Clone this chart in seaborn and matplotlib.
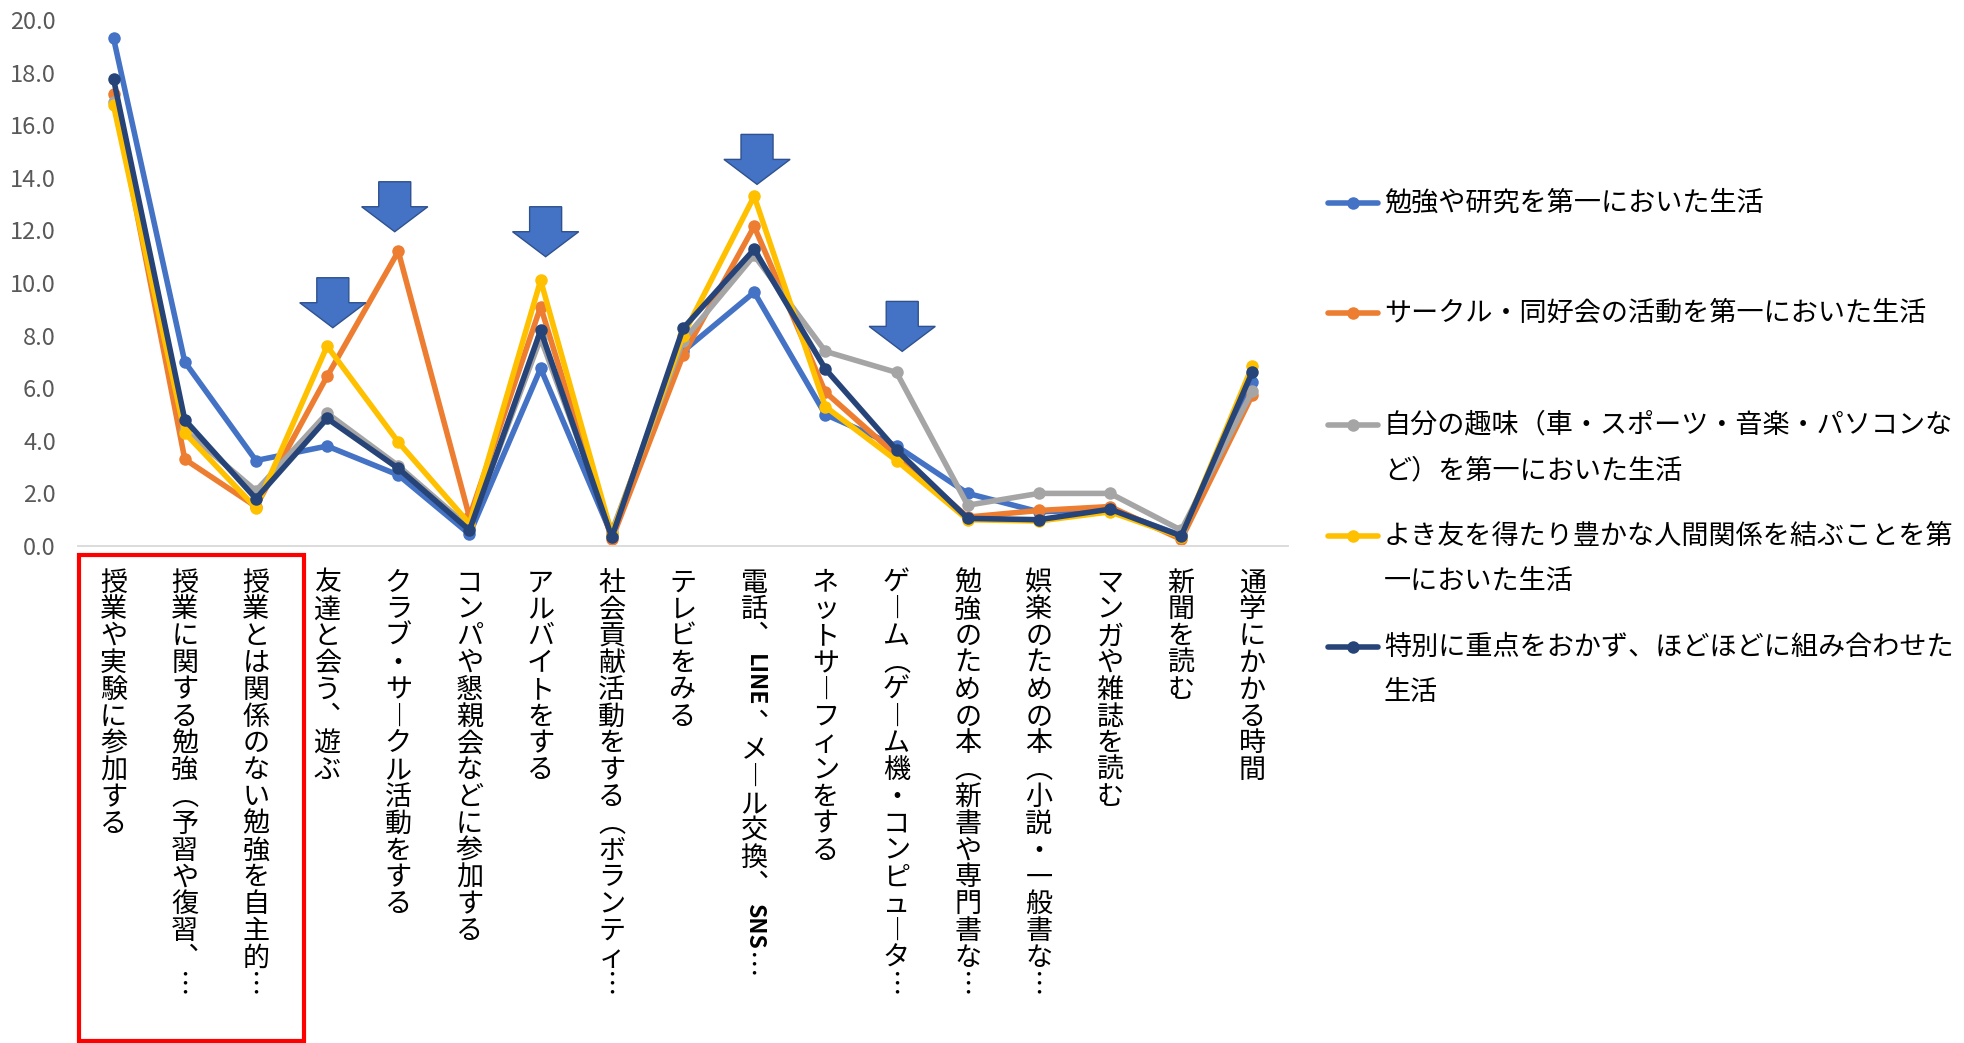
import numpy as np
import pandas as pd
import seaborn as sns
import matplotlib.pyplot as plt
from matplotlib import font_manager, ft2font
from matplotlib.lines import Line2D
from matplotlib.patches import FancyArrow, Rectangle
from matplotlib.transforms import blended_transform_factory

# categories on the x axis (already truncated as in the original chart)
categories = [
    "授業や実験に参加する",
    "授業に関する勉強（予習や復習、…",
    "授業とは関係のない勉強を自主的…",
    "友達と会う、遊ぶ",
    "クラブ・サークル活動をする",
    "コンパや懇親会などに参加する",
    "アルバイトをする",
    "社会貢献活動をする（ボランティ…",
    "テレビをみる",
    "電話、LINE、メール交換、SNS…",
    "ネットサーフィンをする",
    "ゲーム（ゲーム機・コンピュータ…",
    "勉強のための本（新書や専門書な…",
    "娯楽のための本（小説・一般書な…",
    "マンガや雑誌を読む",
    "新聞を読む",
    "通学にかかる時間",
]

series_names = [
    "勉強や研究を第一においた生活",
    "サークル・同好会の活動を第一においた生活",
    "自分の趣味（車・スポーツ・音楽・パソコンなど）を第一においた生活",
    "よき友を得たり豊かな人間関係を結ぶことを第一においた生活",
    "特別に重点をおかず、ほどほどに組み合わせた生活",
]

# legend text as wrapped in the original
legend_lines = [
    ["勉強や研究を第一においた生活"],
    ["サークル・同好会の活動を第一においた生活"],
    ["自分の趣味（車・スポーツ・音楽・パソコンな", "ど）を第一においた生活"],
    ["よき友を得たり豊かな人間関係を結ぶことを第", "一においた生活"],
    ["特別に重点をおかず、ほどほどに組み合わせた", "生活"],
]

study = [19.3, 7.0, 3.25, 3.8, 2.7, 0.45, 6.75, 0.4, 7.4, 9.65, 5.0, 3.8, 2.0, 1.3, 1.4, 0.4, 6.25]
circle = [17.2, 3.3, 1.5, 6.45, 11.2, 1.1, 9.1, 0.25, 7.25, 12.15, 5.85, 3.45, 1.1, 1.35, 1.5, 0.25, 5.75]
hobby = [16.9, 4.4, 2.1, 5.05, 3.05, 0.7, 7.9, 0.55, 7.8, 11.05, 7.4, 6.6, 1.55, 2.0, 2.0, 0.6, 5.9]
friends = [16.75, 4.3, 1.45, 7.6, 3.95, 0.85, 10.1, 0.45, 8.0, 13.3, 5.3, 3.25, 1.0, 0.95, 1.3, 0.35, 6.85]
balanced = [17.75, 4.8, 1.8, 4.85, 2.95, 0.6, 8.2, 0.33, 8.27, 11.28, 6.73, 3.65, 1.05, 1.0, 1.4, 0.38, 6.63]

colors = ["#4472C4", "#ED7D31", "#A5A5A5", "#FFC000", "#264478"]

# block arrows drawn on the chart (category position, value at the tip)
arrow_tips = [(3.08, 8.3), (3.95, 11.95), (6.07, 11.0), (9.04, 13.75), (11.08, 7.4)]

sns.set_style("white")
plt.rcParams["font.family"] = ["Noto Sans CJK JP", "DejaVu Sans"]

# which vertical-writing glyphs does the installed CJK font have?
cjk_map = ft2font.FT2Font(font_manager.findfont("Noto Sans CJK JP")).get_charmap()
dejavu_map = ft2font.FT2Font(font_manager.findfont("DejaVu Sans")).get_charmap()


def vertical_glyph(ch):
    """return (glyph, rotation, dx, dy) for one character of vertical text"""
    forms = {"、": "︑", "（": "︵", "）": "︶", "…": "︙", "ー": "︱"}
    v = forms.get(ch)
    if v and ord(v) in cjk_map:
        return v, 0, 0, 0
    if ch == "、":
        return ch, 0, 0.5, 0.5
    if ch == "…":
        if ord("⋮") in cjk_map or ord("⋮") in dejavu_map:
            return "⋮", 0, 0, 0
        return ch, -90, 0, 0
    if ch == "ー":
        return "｜", 0, 0, 0
    if ch == "（":
        return "(", -90, 0, -0.2
    if ch == "）":
        return ")", -90, 0, 0.2
    return ch, 0, 0, 0


# long form table for seaborn
values = [study, circle, hobby, friends, balanced]
df = pd.DataFrame({
    "pos": np.tile(np.arange(len(categories)), len(series_names)),
    "value": np.concatenate(values),
    "series": np.repeat(series_names, len(categories)),
})

W, H = 1964, 1043
fig = plt.figure(figsize=(W / 100, H / 100), dpi=100)
ax = fig.add_axes([78 / W, 1 - 546 / H, (1288 - 78) / W, (546 - 20) / H])

sns.lineplot(data=df, x="pos", y="value", hue="series", hue_order=series_names,
             palette=colors, marker="o", markersize=9, markeredgewidth=0,
             linewidth=4.0, legend=False, sort=False, ax=ax)

ax.set_xlim(-0.5, len(categories) - 0.5)
ax.set_ylim(0, 20)
ax.set_yticks(np.arange(0, 20.1, 2))
ax.set_yticklabels([f"{v:.1f}" for v in np.arange(0, 20.1, 2)])
ax.set_xticks([])
ax.set_xlabel("")
ax.set_ylabel("")
ax.tick_params(axis="y", length=0, pad=16, labelsize=17, labelcolor="#595959")
sns.despine(ax=ax, left=True)
ax.spines["bottom"].set_color("#D9D9D9")
ax.spines["bottom"].set_linewidth(1.3)

# blue block arrows
for x, tip in arrow_tips:
    ax.add_patch(FancyArrow(x, tip + 1.9, 0, -1.9, width=0.45, head_width=0.93,
                            head_length=0.95, length_includes_head=True,
                            fc="#4472C4", ec="#2F528F", lw=1, zorder=5))

# vertical (tategaki) category labels
trans = blended_transform_factory(ax.transData, ax.transAxes)
renderer = fig.canvas.get_renderer()
fs = 19.5
pitch = 19.3
for i, label in enumerate(categories):
    y = -17
    k = 0
    while k < len(label):
        ch = label[k]
        if ch.isascii():
            j = k
            while j < len(label) and label[j].isascii():
                j += 1
            t = ax.annotate(label[k:j], xy=(i, 0), xycoords=trans, xytext=(0, y - 3),
                            textcoords="offset points", rotation=-90, ha="center",
                            va="top", fontsize=fs * 0.85, fontweight="bold", color="black")
            h = t.get_window_extent(renderer).height * 72 / fig.dpi
            y -= h + 6
            k = j
            continue
        g, rot, dx, dy = vertical_glyph(ch)
        ax.annotate(g, xy=(i, 0), xycoords=trans,
                    xytext=(dx * fs, y - pitch / 2 + dy * fs), textcoords="offset points",
                    ha="center", va="center", rotation=rot, fontsize=fs, color="black")
        y -= pitch
        k += 1

# red frame around the first three categories
fig.add_artist(Rectangle((79 / W, 2 / H), (304 - 79) / W, (1043 - 555 - 2) / H,
                         transform=fig.transFigure, fill=False, ec="#FF0000", lw=3))

# legend on the right
rows = [203, 313, 425, 536, 647]
for color, lines, yrow in zip(colors, legend_lines, rows):
    yf = 1 - yrow / H
    fig.add_artist(Line2D([1328 / W, 1378 / W], [yf, yf], transform=fig.transFigure,
                          color=color, lw=4.0, solid_capstyle="round"))
    fig.add_artist(Line2D([1353 / W], [yf], transform=fig.transFigure, color=color,
                          marker="o", markersize=9, markeredgewidth=0))
    for n, text in enumerate(lines):
        fig.text(1384 / W, 1 - (yrow + n * 45.5) / H, text, ha="left", va="center",
                 fontsize=fs, color="black")

plt.savefig("out.png", dpi=100)
